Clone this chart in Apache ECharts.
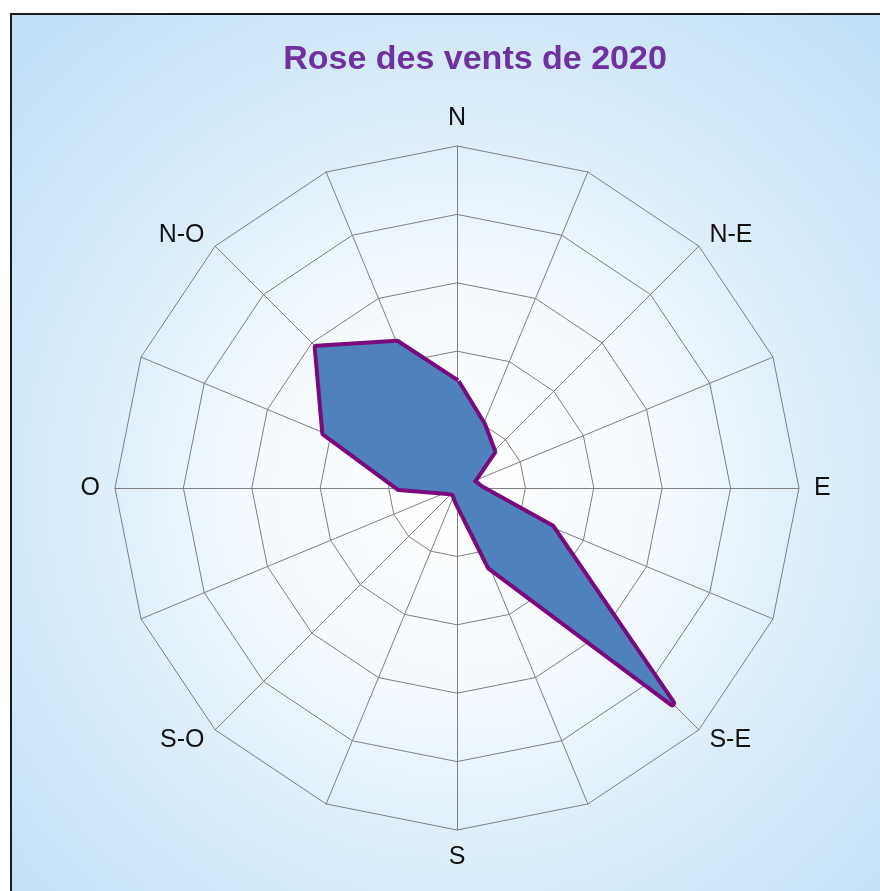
<!DOCTYPE html>
<html>
<head>
<meta charset="utf-8">
<script src="https://cdn.jsdelivr.net/npm/echarts@6/dist/echarts.min.js"></script>
<style>
  html, body { margin: 0; padding: 0; background: #fff; }
  #main {
    position: absolute; left: 10px; top: 13px;
    width: 870px; height: 878px;
    border-top: 2px solid #1a1a1a; border-left: 2px solid #1a1a1a;
    box-sizing: border-box;
  }
</style>
</head>
<body>
<div id="main"></div>
<script>
// 16 directions, clockwise from North
var directions = ['N', 'N-N-E', 'N-E', 'E-N-E', 'E', 'E-S-E', 'S-E', 'S-S-E',
                  'S', 'S-S-O', 'S-O', 'O-S-O', 'O', 'O-N-O', 'N-O', 'N-N-O'];
// only the 8 main directions get a label
var shownLabels = ['N', 'N-E', 'E', 'S-E', 'S', 'S-O', 'O', 'N-O'];
// frequency per direction (%)
var frequencies = [3.1, 2.0, 1.5, 0.5, 0.7, 3.0, 8.9, 2.5,
                   0.4, 0.2, 0.2, 0.3, 1.7, 4.2, 5.8, 4.6];
var maxValue = 10;

// radar in echarts runs counterclockwise, so reorder
var order = [0];
for (var i = directions.length - 1; i > 0; i--) order.push(i);

var indicator = order.map(function (i) {
    return { name: directions[i], max: maxValue, min: 0 };
});
var values = order.map(function (i) { return frequencies[i]; });

var chart = echarts.init(document.getElementById('main'));
var option = {
    backgroundColor: {
        type: 'radial', x: 445, y: 473, r: 620, global: true,
        colorStops: [
            { offset: 0, color: '#ffffff' },
            { offset: 0.35, color: '#f3f9fe' },
            { offset: 0.6, color: '#dbedf9' },
            { offset: 1, color: '#c3e0f7' }
        ]
    },
    title: {
        text: 'Rose des vents de 2020',
        left: 458,
        textAlign: 'center',
        top: 23,
        textStyle: {
            color: '#7030A0',
            fontFamily: 'Liberation Sans, Arial, sans-serif',
            fontWeight: 'bold',
            fontSize: 34
        }
    },
    radar: {
        center: [445, 473],
        radius: 342,
        startAngle: 90,
        splitNumber: 5,
        shape: 'polygon',
        nameGap: 15,
        indicator: indicator,
        axisName: {
            color: '#111',
            fontFamily: 'Liberation Sans, Arial, sans-serif',
            fontSize: 25,
            formatter: function (name) {
                return shownLabels.indexOf(name) >= 0 ? name : '';
            }
        },
        axisLine: { lineStyle: { color: '#7f7f7f', width: 1 } },
        splitLine: { lineStyle: { color: '#7f7f7f', width: 1 } },
        splitArea: { show: false }
    },
    series: [{
        type: 'radar',
        symbol: 'none',
        // the area covers the inner half of the stroke
        lineStyle: { color: '#7a0a7c', width: 8, join: 'round' },
        areaStyle: { color: '#4f81bd', opacity: 1 },
        data: [{ value: values, name: '2020' }]
    }]
};
chart.setOption(option);
</script>
</body>
</html>
